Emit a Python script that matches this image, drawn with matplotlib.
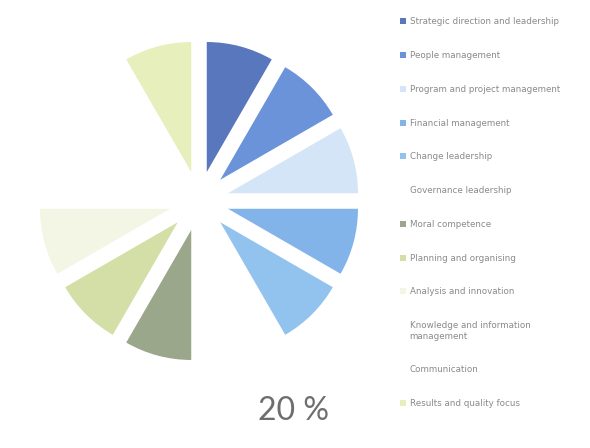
import matplotlib
matplotlib.use("Agg")
import matplotlib.pyplot as plt

labels = ["Strategic direction and leadership", "People management",
          "Program and project management", "Financial management",
          "Change leadership", "Governance leadership", "Moral competence",
          "Planning and organising", "Analysis and innovation",
          "Knowledge and information\nmanagement", "Communication",
          "Results and quality focus"]
values = [1, 1, 1, 1, 1, 1, 1, 1, 1, 1, 1, 1]
colors = ["#5877bd", "#6a93da", "#d3e5f6", "#82b4ea", "#92c3ef", "#ffffff",
          "#9ba78b", "#d3dfa6", "#f3f6e4", "#ffffff", "#ffffff", "#e7efbd"]
center_text = "20 %"

fig = plt.figure(figsize=(5.9, 4.48), dpi=100)
ax = fig.add_axes([0, 0, 1, 1])

wedges, _ = ax.pie(values, colors=colors, startangle=90, counterclock=False,
                   center=(199, 247), radius=130, explode=[30] * 12,
                   wedgeprops=dict(linewidth=0))
ax.set_xlim(0, 590)
ax.set_ylim(0, 448)
ax.set_aspect("equal")
ax.axis("off")

ax.text(293, 37, center_text, ha="center", va="center", fontsize=23,
        color="#6e6e6e", family="Lato")

leg = ax.legend(wedges, labels, loc="upper left", bbox_to_anchor=(0.672, 0.969),
                frameon=False, fontsize=6.3, labelcolor="#8a8a8a",
                handlelength=0.7, handleheight=0.7, handletextpad=0.4,
                labelspacing=2.83, borderaxespad=0)

fig.savefig("out.png", dpi=100, facecolor="white")
